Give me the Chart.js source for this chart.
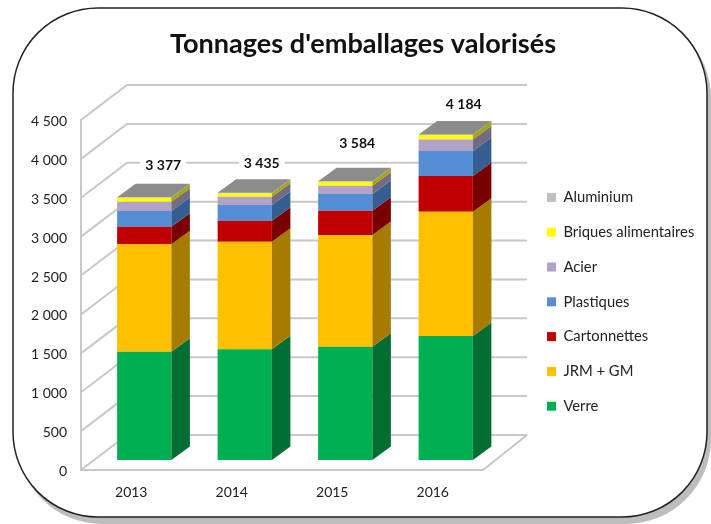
<!DOCTYPE html>
<html>
<head>
<meta charset="utf-8">
<script src="https://cdn.jsdelivr.net/npm/chart.js@4"></script>
<style>
  html, body { margin: 0; padding: 0; background: #fff; }
  #wrap { width: 711px; height: 524px; }
</style>
</head>
<body>
<div id="wrap"><canvas id="myChart" width="711" height="524"></canvas></div>
<script>
const years = ['2013', '2014', '2015', '2016'];
const verre = [1392, 1423, 1456, 1594];
const jrm = [1381, 1384, 1436, 1598];
const cartonnettes = [227, 269, 312, 458];
const plastiques = [200, 202, 215, 322];
const acier = [120, 107, 107, 150];
const briques = [52, 43, 51, 56];
const aluminium = [5, 7, 7, 6];
const totals = [3377, 3435, 3584, 4184];

// depth of the fake 3D: wall behind the axes, bar sides, bars pushed off the front plane
const wall = { dx: 46, dy: -35 };
const side = { dx: 18.5, dy: -13.5 };
const push = { dx: 13, dy: -10 };
// the total labels were moved by hand in the original
const totalOffsets = [[19, -32], [17, -29], [12, -37.5], [18, -30.5]];

const series = [
  { label: 'Verre', data: verre, backgroundColor: '#00b050', sideColor: '#006e32' },
  { label: 'JRM + GM', data: jrm, backgroundColor: '#ffc000', sideColor: '#a67c00' },
  { label: 'Cartonnettes', data: cartonnettes, backgroundColor: '#c00000', sideColor: '#7a0000' },
  { label: 'Plastiques', data: plastiques, backgroundColor: '#558ed5', sideColor: '#355f90' },
  { label: 'Acier', data: acier, backgroundColor: '#b3a2c7', sideColor: '#746a82' },
  { label: 'Briques alimentaires', data: briques, backgroundColor: '#ffff00', sideColor: '#a6a600' },
  { label: 'Aluminium', data: aluminium, backgroundColor: '#bfbfbf', sideColor: '#7c7c7c' },
];

const spaced = (v) => String(v).replace(/\B(?=(\d{3})+$)/g, ' ');

const poly = (ctx, pts, color) => {
  ctx.fillStyle = color;
  ctx.beginPath();
  pts.forEach((p, i) => (i ? ctx.lineTo(p[0], p[1]) : ctx.moveTo(p[0], p[1])));
  ctx.closePath();
  ctx.fill();
};

const panel = {
  id: 'panel',
  beforeDraw(chart) {
    const ctx = chart.ctx;
    ctx.save();
    ctx.fillStyle = '#bdbdbd';
    ctx.beginPath();
    ctx.roundRect(17, 13, 694, 511, 85);
    ctx.fill();
    ctx.fillStyle = '#fff';
    ctx.strokeStyle = '#222';
    ctx.lineWidth = 1.5;
    ctx.beginPath();
    ctx.roundRect(13, 8, 694, 509, 85);
    ctx.fill();
    ctx.stroke();
    ctx.restore();
  },
};

const depth = {
  id: 'depth',
  afterLayout(chart) {
    // title and legend sit outside the plot area, place them by hand
    const t = chart.titleBlock;
    t.left = 15;
    t.right = 711;
    const l = chart.legend;
    l.left = 527;
    l.right = 711;
    l.top = 170;
    l.bottom = 524;
  },
  beforeDatasetsDraw(chart) {
    const { ctx, chartArea: a, scales: { y } } = chart;
    ctx.save();
    ctx.strokeStyle = '#c8c8c8';
    ctx.lineWidth = 2;
    ctx.beginPath();
    y.ticks.forEach((t) => {
      const py = y.getPixelForValue(t.value);
      ctx.moveTo(a.left, py);
      ctx.lineTo(a.left + wall.dx, py + wall.dy);
      ctx.lineTo(a.right + wall.dx - 2, py + wall.dy);
    });
    ctx.moveTo(a.right, a.bottom);
    ctx.lineTo(a.right + wall.dx - 2, a.bottom + wall.dy);
    ctx.stroke();
    ctx.restore();
    ctx.save();
    ctx.translate(push.dx, push.dy);
  },
  afterDatasetsDraw(chart) {
    const ctx = chart.ctx;
    series.forEach((s, i) => {
      chart.getDatasetMeta(i).data.forEach((el) => {
        const r = el.x + el.width / 2;
        poly(ctx, [[r, el.y], [r + side.dx, el.y + side.dy], [r + side.dx, el.base + side.dy], [r, el.base]], s.sideColor);
        if (i === series.length - 1) {
          const l = el.x - el.width / 2;
          poly(ctx, [[l, el.y], [l + side.dx, el.y + side.dy], [r + side.dx, el.y + side.dy], [r, el.y]], '#8c8c8c');
        }
      });
    });
    const top = chart.getDatasetMeta(series.length - 1).data;
    ctx.font = 'bold 14px Lato';
    ctx.textAlign = 'center';
    ctx.textBaseline = 'middle';
    totals.forEach((v, i) => {
      const txt = spaced(v);
      const x = top[i].x + totalOffsets[i][0];
      const py = chart.scales.y.getPixelForValue(v) + totalOffsets[i][1];
      const w = ctx.measureText(txt).width + 10;
      ctx.fillStyle = '#fff';
      ctx.fillRect(x - w / 2, py - 8, w, 16);
      ctx.fillStyle = '#111';
      ctx.fillText(txt, x, py);
    });
    ctx.restore();
  },
};

new Chart(document.getElementById('myChart'), {
  type: 'bar',
  data: { labels: years, datasets: series },
  plugins: [panel, depth],
  options: {
    responsive: false,
    animation: false,
    layout: { padding: { left: 0, right: 228, top: 0, bottom: 4 } },
    plugins: {
      tooltip: { enabled: false },
      title: {
        display: true,
        text: "Tonnages d'emballages valorisés",
        color: '#111',
        font: { family: 'Lato', size: 27.1, weight: 'bold', lineHeight: '32px' },
        padding: { top: 28, bottom: 60 },
      },
      legend: {
        position: 'chartArea',
        align: 'start',
        reverse: true,
        labels: {
          color: '#222',
          boxWidth: 9,
          boxHeight: 9,
          padding: 20,
          font: { family: 'Lato', size: 14.8 },
        },
      },
    },
    scales: {
      x: {
        stacked: true,
        grid: { display: false },
        border: { color: '#c8c8c8', width: 2 },
        ticks: { color: '#222', padding: 6, font: { family: 'Lato', size: 14 } },
        afterFit(s) { s.height = 50; },
      },
      y: {
        stacked: true,
        min: 0,
        max: 4500,
        grid: { display: false },
        border: { color: '#c8c8c8', width: 2 },
        afterFit(s) { s.width = 81; },
        ticks: {
          stepSize: 500,
          color: '#222',
          padding: 6,
          labelOffset: 1.5,
          font: { family: 'Lato', size: 14 },
          callback: (v) => spaced(v),
        },
      },
    },
    datasets: { bar: { categoryPercentage: 1, barPercentage: 0.54 } },
  },
});
</script>
</body>
</html>
